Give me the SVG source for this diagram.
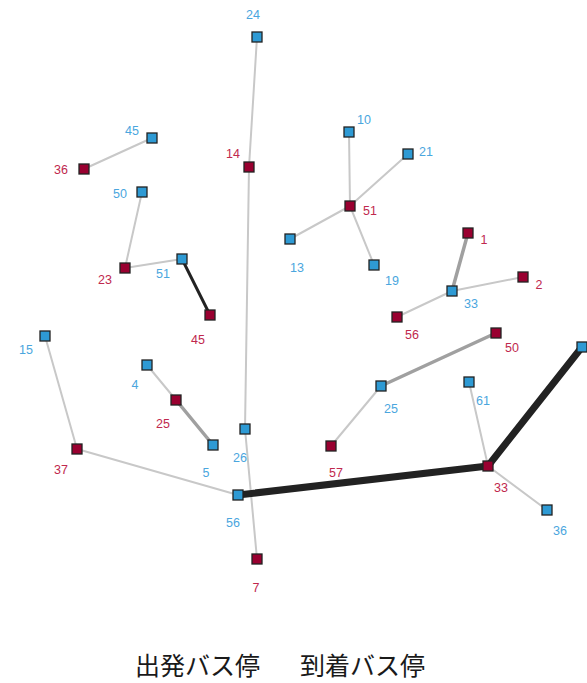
<svg xmlns="http://www.w3.org/2000/svg" width="587" height="683" viewBox="0 0 587 683">
<style>
.e{stroke:#c8c8c8;stroke-width:2;stroke-linecap:round;fill:none}
.m{stroke:#a0a0a0;stroke-width:3.5}
.k{stroke:#222;stroke-width:3}
.t{stroke:#222;stroke-width:7}
.b rect{fill:#2e9ad4;stroke:#222;stroke-width:1.3}
.r rect{fill:#990030;stroke:#222;stroke-width:1.3}
.b text{fill:#4aa6de}
.r text{fill:#c0284e}
text{font-family:"Liberation Sans",Arial,sans-serif;font-size:12.5px;text-anchor:middle}
.leg{font-family:"Noto Sans CJK JP","Noto Sans CJK SC",sans-serif;font-size:25px;fill:#1a1a1a;text-anchor:start}
</style>
<rect width="587" height="683" fill="#fff"/>
<g id="connectors">
<line class="e" x1="257" y1="37" x2="249" y2="167"/>
<line class="e" x1="249" y1="167" x2="245" y2="429"/>
<line class="e" x1="245" y1="429" x2="257" y2="559"/>
<line class="e" x1="152" y1="138" x2="84" y2="169"/>
<line class="e" x1="142" y1="192" x2="125" y2="268"/>
<line class="e" x1="125" y1="268" x2="182" y2="259"/>
<line class="e k" x1="182" y1="259" x2="210" y2="315"/>
<line class="e" x1="349" y1="132" x2="350" y2="206"/>
<line class="e" x1="408" y1="154" x2="350" y2="206"/>
<line class="e" x1="290" y1="239" x2="350" y2="206"/>
<line class="e" x1="374" y1="265" x2="350" y2="206"/>
<line class="e m" x1="468" y1="233" x2="452" y2="291"/>
<line class="e" x1="523" y1="277" x2="452" y2="291"/>
<line class="e" x1="397" y1="317" x2="452" y2="291"/>
<line class="e m" x1="496" y1="333" x2="381" y2="386"/>
<line class="e" x1="381" y1="386" x2="331" y2="446"/>
<line class="e" x1="45" y1="336" x2="77" y2="449"/>
<line class="e" x1="77" y1="449" x2="238" y2="495"/>
<line class="e" x1="147" y1="365" x2="176" y2="400"/>
<line class="e m" x1="176" y1="400" x2="213" y2="445"/>
<line class="e" x1="469" y1="382" x2="488" y2="466"/>
<line class="e" x1="488" y1="466" x2="547" y2="510"/>
<line class="e t" x1="238" y1="495" x2="488" y2="466"/>
<line class="e t" x1="488" y1="466" x2="582" y2="347"/>
</g>
<g id="n-b24" class="b"><rect x="252" y="32" width="10" height="10"/><text x="253" y="19">24</text></g>
<g id="n-r14" class="r"><rect x="244" y="162" width="10" height="10"/><text x="233" y="158">14</text></g>
<g id="n-b45" class="b"><rect x="147" y="133" width="10" height="10"/><text x="132" y="135">45</text></g>
<g id="n-r36" class="r"><rect x="79" y="164" width="10" height="10"/><text x="61" y="174">36</text></g>
<g id="n-b50" class="b"><rect x="137" y="187" width="10" height="10"/><text x="120" y="198">50</text></g>
<g id="n-r23" class="r"><rect x="120" y="263" width="10" height="10"/><text x="105" y="284">23</text></g>
<g id="n-b51" class="b"><rect x="177" y="254" width="10" height="10"/><text x="163" y="278">51</text></g>
<g id="n-r45" class="r"><rect x="205" y="310" width="10" height="10"/><text x="198" y="344">45</text></g>
<g id="n-b10" class="b"><rect x="344" y="127" width="10" height="10"/><text x="364" y="124">10</text></g>
<g id="n-b21" class="b"><rect x="403" y="149" width="10" height="10"/><text x="426" y="156">21</text></g>
<g id="n-r51" class="r"><rect x="345" y="201" width="10" height="10"/><text x="370" y="215">51</text></g>
<g id="n-b13" class="b"><rect x="285" y="234" width="10" height="10"/><text x="297" y="272">13</text></g>
<g id="n-b19" class="b"><rect x="369" y="260" width="10" height="10"/><text x="392" y="285">19</text></g>
<g id="n-r1" class="r"><rect x="463" y="228" width="10" height="10"/><text x="484" y="244">1</text></g>
<g id="n-r2" class="r"><rect x="518" y="272" width="10" height="10"/><text x="539" y="289">2</text></g>
<g id="n-b33" class="b"><rect x="447" y="286" width="10" height="10"/><text x="471" y="308">33</text></g>
<g id="n-r56" class="r"><rect x="392" y="312" width="10" height="10"/><text x="412" y="339">56</text></g>
<g id="n-r50" class="r"><rect x="491" y="328" width="10" height="10"/><text x="512" y="352">50</text></g>
<g id="n-b15" class="b"><rect x="40" y="331" width="10" height="10"/><text x="26" y="354">15</text></g>
<g id="n-b4" class="b"><rect x="142" y="360" width="10" height="10"/><text x="135" y="389">4</text></g>
<g id="n-r25" class="r"><rect x="171" y="395" width="10" height="10"/><text x="163" y="428">25</text></g>
<g id="n-b5" class="b"><rect x="208" y="440" width="10" height="10"/><text x="206" y="477">5</text></g>
<g id="n-b26" class="b"><rect x="240" y="424" width="10" height="10"/><text x="240" y="462">26</text></g>
<g id="n-r37" class="r"><rect x="72" y="444" width="10" height="10"/><text x="61" y="474">37</text></g>
<g id="n-b56" class="b"><rect x="233" y="490" width="10" height="10"/><text x="233" y="527">56</text></g>
<g id="n-r7" class="r"><rect x="252" y="554" width="10" height="10"/><text x="256" y="592">7</text></g>
<g id="n-b25" class="b"><rect x="376" y="381" width="10" height="10"/><text x="391" y="413">25</text></g>
<g id="n-r57" class="r"><rect x="326" y="441" width="10" height="10"/><text x="336" y="477">57</text></g>
<g id="n-b61" class="b"><rect x="464" y="377" width="10" height="10"/><text x="483" y="405">61</text></g>
<g id="n-r33" class="r"><rect x="483" y="461" width="10" height="10"/><text x="501" y="492">33</text></g>
<g id="n-b36" class="b"><rect x="542" y="505" width="10" height="10"/><text x="560" y="535">36</text></g>
<g id="n-bedge" class="b"><rect x="577" y="342" width="10" height="10"/></g>
<g id="legend">
<text class="leg" x="135" y="675">出発バス停</text>
<text class="leg" x="300" y="675">到着バス停</text>
</g>
</svg>
